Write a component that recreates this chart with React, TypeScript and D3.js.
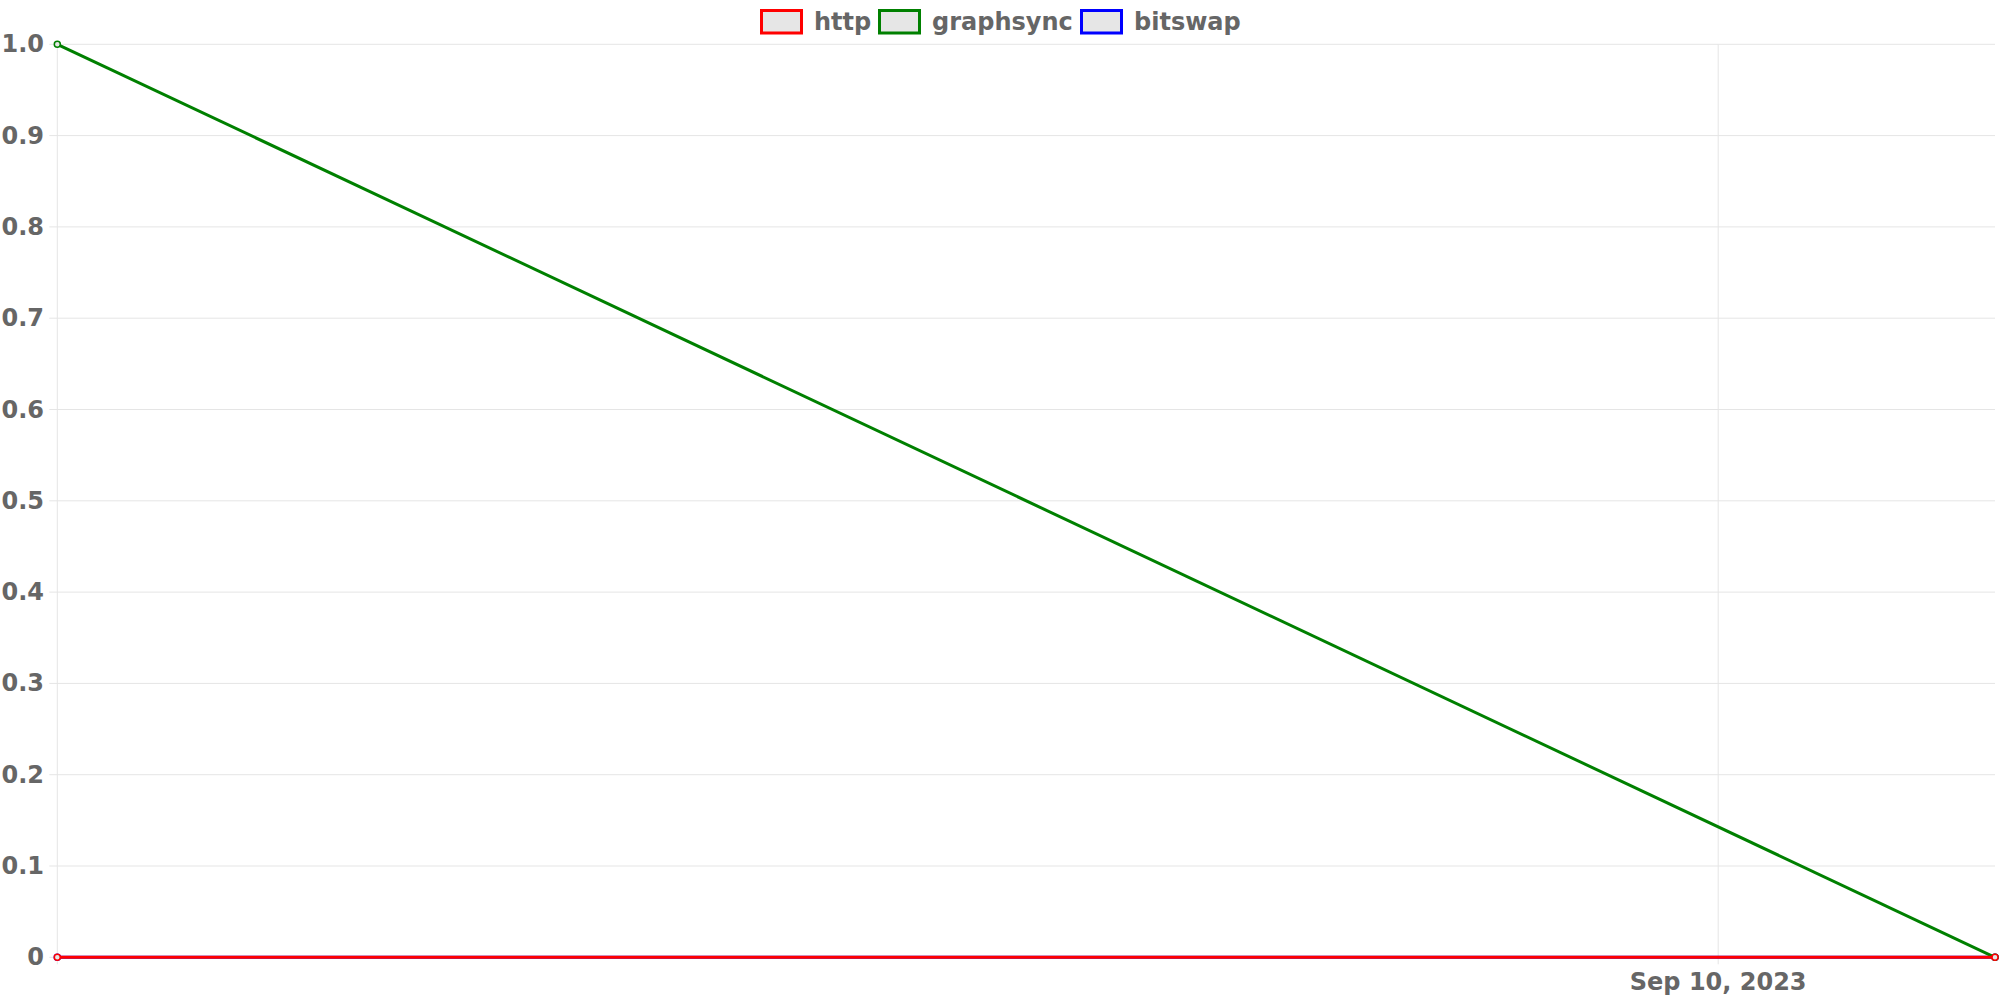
import React from "react";
import * as d3 from "d3";

const dates = ["2023-09-04T00:00:00", "2023-09-11T00:00:00"];
const httpValues = [0, 0];
const graphsyncValues = [1, 0];
const bitswapValues = [0, 0];
const seriesNames = ["http", "graphsync", "bitswap"];
const seriesColors = ["#ff0000", "#008000", "#0000ff"];
const yTicks = [0, 0.1, 0.2, 0.3, 0.4, 0.5, 0.6, 0.7, 0.8, 0.9, 1.0];
const xTickDates = ["2023-09-10T00:00:00"];
const xTickLabels = ["Sep 10, 2023"];

const W = 2000;
const H = 1000;
const left = 57.3;
const right = 1995;
const top = 44.3;
const bottom = 957.3;
const FONT = "'DejaVu Sans', Verdana, sans-serif";

export default function App() {
  const parse = (s: string) => new Date(s);
  const x = d3.scaleTime().domain([parse(dates[0]), parse(dates[dates.length - 1])]).range([left, right]);
  const y = d3.scaleLinear().domain([0, 1]).range([bottom, top]);
  const series = [httpValues, graphsyncValues, bitswapValues];
  const line = d3
    .line<number>()
    .x((_, i) => x(parse(dates[i])))
    .y((v) => y(v));
  const legendX = [760, 878, 1080];
  const drawOrder = [2, 1, 0];

  return (
    <svg
      width={W}
      height={H}
      style={{ position: "absolute", top: 0, left: 0, background: "#fff" }}
    >
      {/* horizontal grid */}
      {yTicks.map((t) => (
        <g key={"y" + t}>
          <line x1={left - 8} x2={right} y1={y(t)} y2={y(t)} stroke="#e5e5e5" strokeWidth={1} />
          <text
            x={44}
            y={y(t)}
            textAnchor="end"
            dominantBaseline="central"
            fontFamily={FONT}
            fontWeight="bold"
            fontSize={24}
            fill="#666"
          >
            {t === 0 ? "0" : t.toFixed(1)}
          </text>
        </g>
      ))}
      {/* vertical grid */}
      <line x1={left} x2={left} y1={top} y2={bottom + 7} stroke="#e5e5e5" strokeWidth={1} />
      {xTickDates.map((d, i) => (
        <g key={d}>
          <line x1={x(parse(d))} x2={x(parse(d))} y1={top} y2={bottom + 7} stroke="#e5e5e5" strokeWidth={1} />
          <text
            x={x(parse(d))}
            y={990}
            textAnchor="middle"
            fontFamily={FONT}
            fontWeight="bold"
            fontSize={24}
            fill="#666"
          >
            {xTickLabels[i]}
          </text>
        </g>
      ))}
      {/* lines */}
      {drawOrder.map((si) => (
        <g key={seriesNames[si]}>
          <path d={line(series[si]) || ""} fill="none" stroke={seriesColors[si]} strokeWidth={3} />
          {series[si].map((v, i) => (
            <circle
              key={i}
              cx={x(parse(dates[i]))}
              cy={y(v)}
              r={3}
              fill="#e6e6e6"
              stroke={seriesColors[si]}
              strokeWidth={1.5}
            />
          ))}
        </g>
      ))}
      {/* legend */}
      {seriesNames.map((n, i) => (
        <g key={n}>
          <rect
            x={legendX[i] + 1.5}
            y={10.5}
            width={40}
            height={22.5}
            fill="#e6e6e6"
            stroke={seriesColors[i]}
            strokeWidth={3}
          />
          <text
            x={legendX[i] + 54}
            y={22}
            dominantBaseline="central"
            fontFamily={FONT}
            fontWeight="bold"
            fontSize={24}
            fill="#666"
          >
            {n}
          </text>
        </g>
      ))}
    </svg>
  );
}
